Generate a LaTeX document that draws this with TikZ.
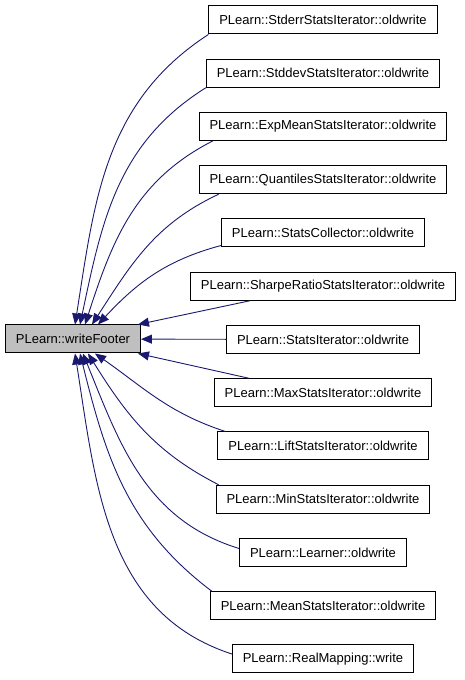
\documentclass[tikz,border=0pt]{standalone}
\usepackage{fontspec}
\setmainfont{Liberation Sans}
\usetikzlibrary{arrows.meta}
\definecolor{edgeblue}{HTML}{191970}
\definecolor{nodegray}{HTML}{BFBFBF}
\tikzstyle{func} = [rectangle, draw=black, line width=1pt, fill=white, minimum height=28pt, inner xsep=10.4pt, text centered, font=\fontsize{13}{15}\selectfont]
\tikzstyle{mainfunc} = [func, fill=nodegray]
\tikzstyle{callarrow} = [draw=edgeblue, line width=0.9pt, -{Triangle[length=11pt,width=9pt]}]
\begin{document}
\begin{tikzpicture}[x=1pt, y=1pt, node distance=53.25pt]
      \useasboundingbox (0,0) rectangle (464,680);
      \node (main)[mainfunc] at (73,341) {PLearn::writeFooter};
      \node (stderr)[func] at (323,660) {PLearn::StderrStatsIterator::oldwrite};
      \node (stddev)[func, below of=stderr] {PLearn::StddevStatsIterator::oldwrite};
      \node (expmean)[func, below of=stddev] {PLearn::ExpMeanStatsIterator::oldwrite};
      \node (quantiles)[func, below of=expmean] {PLearn::QuantilesStatsIterator::oldwrite};
      \node (collector)[func, below of=quantiles] {PLearn::StatsCollector::oldwrite};
      \node (sharpe)[func, below of=collector] {PLearn::SharpeRatioStatsIterator::oldwrite};
      \node (iter)[func, below of=sharpe] {PLearn::StatsIterator::oldwrite};
      \node (maxit)[func, below of=iter] {PLearn::MaxStatsIterator::oldwrite};
      \node (lift)[func, below of=maxit] {PLearn::LiftStatsIterator::oldwrite};
      \node (minit)[func, below of=lift] {PLearn::MinStatsIterator::oldwrite};
      \node (learner)[func, below of=minit] {PLearn::Learner::oldwrite};
      \node (mean)[func, below of=learner] {PLearn::MeanStatsIterator::oldwrite};
      \node (mapping)[func, below of=mean] {PLearn::RealMapping::write};
      % callers above
      \draw [callarrow](stderr.south west) to[out=213, in=81] ([xshift=2pt]main.north);
      \draw [callarrow](stddev.south west) to[out=212, in=78] ([xshift=7pt]main.north);
      \draw [callarrow]([xshift=14pt]expmean.south west) to[out=207, in=72] ([xshift=12pt]main.north);
      \draw [callarrow]([xshift=20pt]quantiles.south west) to[out=205, in=57] ([xshift=19pt]main.north);
      \draw [callarrow]([yshift=2pt]collector.south west) to[out=195, in=47] ([xshift=25pt]main.north);
      \draw [callarrow]([xshift=60pt]sharpe.south west) -- ([xshift=-3pt]main.north east);
      \draw [callarrow](iter) -- (main);
      % callers below
      \draw [callarrow]([xshift=35pt]maxit.north west) -- ([xshift=-3pt]main.south east);
      \draw [callarrow]([xshift=8pt]lift.north west) to[out=162, in=-35] ([xshift=22pt]main.south);
      \draw [callarrow]([xshift=3pt]minit.north west) to[out=153, in=-58] ([xshift=15pt]main.south);
      \draw [callarrow]([yshift=4pt]learner.west) to[out=163, in=-68] ([xshift=10pt]main.south);
      \draw [callarrow]([xshift=2pt]mean.north west) to[out=143, in=-76] ([xshift=7pt]main.south);
      \draw [callarrow]([yshift=5pt]mapping.west) to[out=162, in=-81] ([xshift=2pt]main.south);
    \end{tikzpicture}
\end{document}
